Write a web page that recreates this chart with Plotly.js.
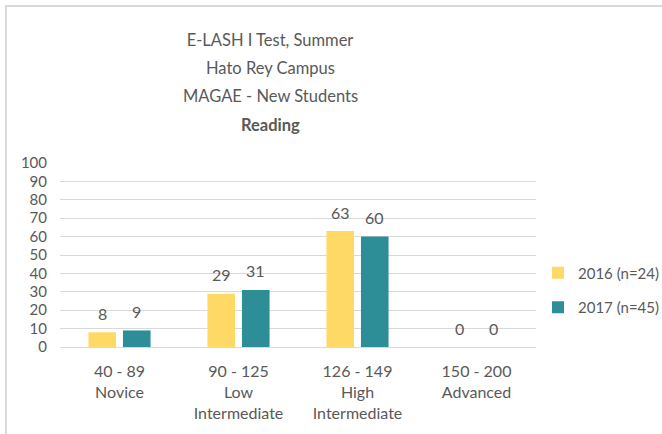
<!DOCTYPE html>
<html>
<head>
<meta charset="utf-8">
<script src="https://cdn.plot.ly/plotly-3.0.1.min.js"></script>
<style>
  html, body { margin: 0; padding: 0; background: #ffffff; }
  #chart { position: absolute; left: 0; top: 0; width: 662px; height: 434px; }
  #frame { position: absolute; left: 5px; top: 5px; width: 660px; height: 432px;
           border-top: 2px solid #d9d9d9; border-left: 2px solid #d9d9d9; pointer-events: none; }
</style>
</head>
<body>
<div id="chart"></div>
<div id="frame"></div>
<script>
// ---- data ----
var categories = ["40 - 89<br>Novice", "90 - 125<br>Low<br>Intermediate", "126 - 149<br>High<br>Intermediate", "150 - 200<br>Advanced"];
var seriesNames = ["2016 (n=24)", "2017 (n=45)"];
var values2016 = [8, 29, 63, 0];
var values2017 = [9, 31, 60, 0];
var titleLines = ["E-LASH I Test, Summer", "Hato Rey Campus", "MAGAE - New Students", "<b>Reading</b>"];
var yTicks = [0, 10, 20, 30, 40, 50, 60, 70, 80, 90, 100];

var colors = ["#FFD966", "#2E8E98"];
var textColor = "#595959";
var fontFam = "Lato, 'Open Sans', sans-serif";

var allValues = [values2016, values2017];
var traces = allValues.map(function (vals, i) {
  return {
    type: "bar",
    name: seriesNames[i],
    x: categories,
    y: vals,
    marker: { color: colors[i] },
    legendgroup: "g" + i,
    hoverinfo: "x+y+name"
  };
});

// data labels via annotations anchored on the data axes
var annotations = [];
allValues.forEach(function (vals, i) {
  vals.forEach(function (v, j) {
    annotations.push({
      x: categories[j], y: v, xref: "x", yref: "y",
      text: String(v), showarrow: false,
      xshift: i === 0 ? -17 : 17, yshift: 19,
      yanchor: "middle", xanchor: "center",
      font: { family: fontFam, size: 16, color: textColor }
    });
  });
});
// title lines 2-4
var titlePx = [40, 68, 96, 125];
for (var k = 1; k < titleLines.length; k++) {
  annotations.push({
    xref: "paper", yref: "paper", x: (270 - 60) / 476, y: (347 - titlePx[k]) / 184,
    text: titleLines[k], showarrow: false, xanchor: "center", yanchor: "middle",
    font: { family: fontFam, size: 16.5, color: textColor }
  });
}

var layout = {
  width: 662, height: 434,
  paper_bgcolor: "#ffffff", plot_bgcolor: "#ffffff",
  margin: { l: 60, r: 126, t: 163, b: 87, autoexpand: false },
  font: { family: fontFam, color: textColor, size: 15 },
  title: {
    text: titleLines[0],
    xref: "container", yref: "container", x: 270 / 662, y: 1 - titlePx[0] / 434,
    xanchor: "center", yanchor: "middle",
    font: { family: fontFam, size: 16.5, color: textColor }
  },
  barmode: "group",
  bargap: 0.42,
  bargroupgap: 0.2,
  xaxis: {
    type: "category",
    showgrid: false, showline: false, zeroline: false,
    ticks: "", ticklabelstandoff: 13,
    tickfont: { family: fontFam, size: 16, color: textColor },
    fixedrange: true
  },
  yaxis: {
    range: [0, 100],
    tickvals: yTicks,
    ticktext: yTicks.map(String),
    showgrid: true, gridcolor: "#d9d9d9", gridwidth: 1,
    zeroline: true, zerolinecolor: "#d9d9d9", zerolinewidth: 1,
    showline: false, ticks: "", ticklabelstandoff: 12,
    tickfont: { family: fontFam, size: 15, color: textColor },
    fixedrange: true
  },
  showlegend: true,
  legend: {
    x: (538 - 60) / 476, xanchor: "left", y: 0.31, yanchor: "middle",
    traceorder: "grouped", tracegroupgap: 12,
    font: { family: fontFam, size: 15, color: textColor },
    itemwidth: 30
  },
  annotations: annotations
};

Plotly.newPlot("chart", traces, layout, { displayModeBar: false, staticPlot: true });
</script>
</body>
</html>
